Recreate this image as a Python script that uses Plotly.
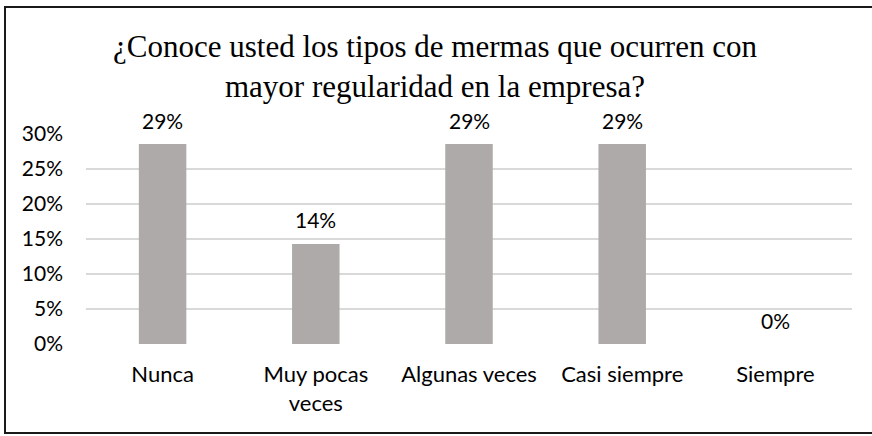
import plotly.graph_objects as go

categories = ["Nunca", "Muy pocas<br>veces", "Algunas veces", "Casi siempre", "Siempre"]
values = [0.2857, 0.1429, 0.2857, 0.2857, 0.0]
labels = ["29%", "14%", "29%", "29%", "0%"]
y_ticks = [0, 0.05, 0.10, 0.15, 0.20, 0.25, 0.30]
title_lines = ["¿Conoce usted los tipos de mermas que ocurren con",
               "mayor regularidad en la empresa?"]

W, H = 872, 436
ml, mr, mt, mb = 86, 20, 134, 92
pw = W - ml - mr
ph = H - mt - mb

def px_to_paper_x(px):
    return (px - ml) / pw

def px_to_paper_y(py):
    return (H - mb - py) / ph

font_main = "Lato, Carlito, 'Open Sans', sans-serif"
font_title = "'Liberation Serif', 'Times New Roman', serif"

fig = go.Figure()
fig.add_trace(go.Bar(
    x=categories, y=values,
    marker=dict(color="#AEAAAA", line=dict(width=0)),
    hoverinfo="skip",
))

for c, v, t in zip(categories, values, labels):
    fig.add_annotation(x=c, y=v, text=t, showarrow=False, yanchor="middle",
                       yshift=24, font=dict(family=font_main, size=21, color="#000000"))

for line, ypx in zip(title_lines, [47, 87]):
    fig.add_annotation(x=px_to_paper_x(W / 2 - 1), y=px_to_paper_y(ypx), xref="paper", yref="paper",
                       text=line, showarrow=False, xanchor="center", yanchor="middle",
                       font=dict(family=font_title, size=31, color="#000000"))

fig.add_shape(type="rect", xref="paper", yref="paper",
              x0=px_to_paper_x(5), x1=px_to_paper_x(920),
              y0=px_to_paper_y(433), y1=px_to_paper_y(7),
              line=dict(color="#1a1a1a", width=2), fillcolor="rgba(0,0,0,0)", layer="above")

fig.update_layout(
    width=W, height=H,
    margin=dict(l=ml, r=mr, t=mt, b=mb),
    paper_bgcolor="white", plot_bgcolor="white",
    showlegend=False,
    bargap=0.69,
    font=dict(family=font_main, size=20, color="#000000"),
)
fig.update_xaxes(showgrid=False, showline=False, zeroline=False, ticks="",
                 tickfont=dict(family=font_main, size=22, color="#000000"), ticklabelstandoff=15)
fig.update_yaxes(range=[0, 0.3], tickvals=y_ticks, tickformat=".0%",
                 showgrid=True, gridcolor="#D9D9D9", gridwidth=1.5, zeroline=False,
                 showline=False, ticks="", ticklabelstandoff=22,
                 tickfont=dict(family=font_main, size=21, color="#000000"))

fig.write_html("out.html", config={"displayModeBar": False},
               post_script="document.body.style.margin='0';document.body.style.padding='0';document.body.style.overflow='hidden';")
